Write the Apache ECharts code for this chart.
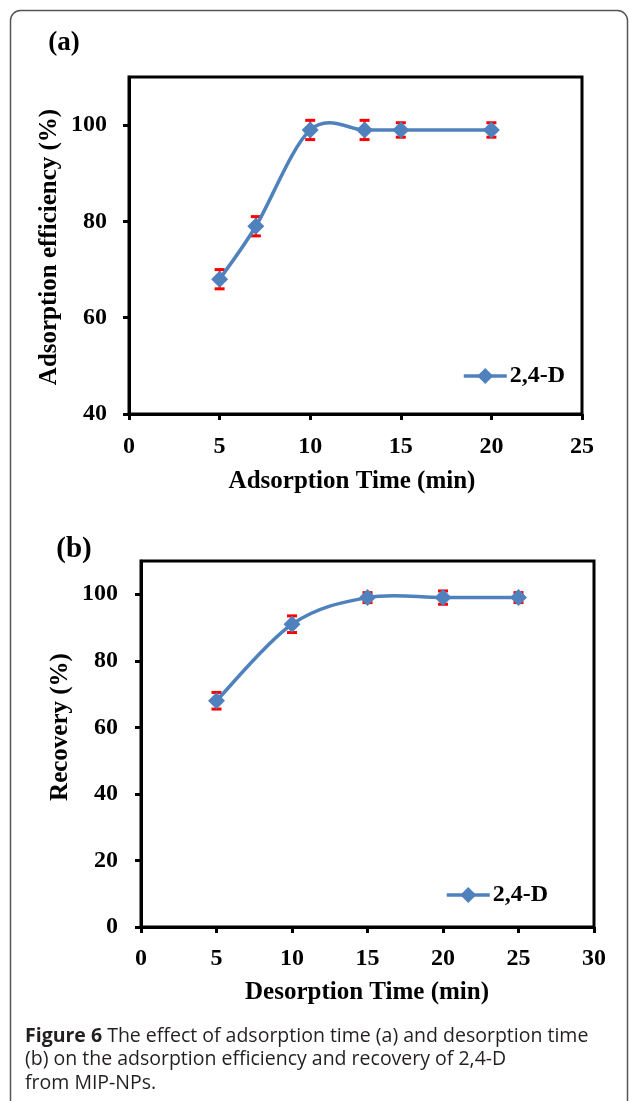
<!DOCTYPE html>
<html>
<head>
<meta charset="utf-8">
<script src="https://cdn.jsdelivr.net/npm/echarts@6/dist/echarts.min.js"></script>
<style>
html,body{margin:0;padding:0;background:#fff;}
#c{width:629px;height:1101px;}
</style>
</head>
<body>
<div id="c"></div>
<script>
// ---- Data ----
var seriesName = '2,4-D';
// Panel (a): adsorption time
var timeA = [5, 7, 10, 13, 15, 20];
var effA  = [68, 79, 99, 99, 99, 99];
var errA  = [2, 2, 2, 2, 1.5, 1.5];
var xTicksA = [0, 5, 10, 15, 20, 25];
var yTicksA = [40, 60, 80, 100];
// Panel (b): desorption time
var timeB = [5, 10, 15, 20, 25];
var recB  = [68, 91, 99, 99, 99];
var errB  = [2.5, 2.5, 1.5, 2, 1.5];
var xTicksB = [0, 5, 10, 15, 20, 25, 30];
var yTicksB = [0, 20, 40, 60, 80, 100];

var captionLines = [
  ['Figure 6', ' The effect of adsorption time (a) and desorption time'],
  ['', '(b) on the adsorption efficiency and recovery of 2,4-D'],
  ['', 'from MIP-NPs.']
];

// ---- Helpers ----
function pairs(xs, ys){ return xs.map(function(x,i){ return [x, ys[i]]; }); }
function errData(xs, ys, es){ return xs.map(function(x,i){ return [x, ys[i]-es[i], ys[i]+es[i]]; }); }

var SERIF = 'Liberation Serif';
var BLUE = '#4f81bd';

function errRender(params, api){
  var x = api.value(0), lo = api.value(1), hi = api.value(2);
  var p1 = api.coord([x, hi]), p2 = api.coord([x, lo]);
  var w = 5;
  var st = {stroke:'#ff0000', lineWidth:3};
  return {type:'group', children:[
    {type:'line', shape:{x1:p1[0], y1:p1[1], x2:p2[0], y2:p2[1]}, style:{stroke:'#ff0000', lineWidth:2}},
    {type:'line', shape:{x1:p1[0]-w, y1:p1[1], x2:p1[0]+w, y2:p1[1]}, style:st},
    {type:'line', shape:{x1:p2[0]-w, y1:p2[1], x2:p2[0]+w, y2:p2[1]}, style:st}
  ]};
}

// Excel-like smoothed curve (cardinal spline as cubic Bezier segments through the data points)
function curveRender(xs, ys){
  return function(params, api){
    var i = params.dataIndex, n = xs.length;
    if (i >= n - 1) return {type:'group', children:[]};
    var P = function(k){ k = Math.max(0, Math.min(n-1, k)); return api.coord([xs[k], ys[k]]); };
    var p0 = P(i-1), p1 = P(i), p2 = P(i+1), p3 = P(i+2);
    var t = 1/6;
    return {type:'bezierCurve', shape:{
      x1:p1[0], y1:p1[1], x2:p2[0], y2:p2[1],
      cpx1:p1[0] + (p2[0]-p0[0])*t, cpy1:p1[1] + (p2[1]-p0[1])*t,
      cpx2:p2[0] - (p3[0]-p1[0])*t, cpy2:p2[1] - (p3[1]-p1[1])*t
    }, style:{stroke:BLUE, lineWidth:3.5, fill:null, lineCap:'round'}};
  };
}

function xAxisCfg(idx, max, margin){
  return {
    type:'value', gridIndex: idx, min:0, max:max, interval:5,
    axisLine:{show:true, onZero:false, lineStyle:{color:'#000', width:3}},
    axisTick:{show:true, inside:false, length:6, lineStyle:{color:'#000', width:3}},
    axisLabel:{margin:margin, color:'#000', fontSize:24, fontWeight:'bold', fontFamily:SERIF},
    splitLine:{show:false}
  };
}
function yAxisCfg(idx, min, ticks, margin){
  return {
    type:'value', gridIndex: idx, min:min, max:110, interval:20,
    axisLine:{show:true, onZero:false, lineStyle:{color:'#000', width:3}},
    axisTick:{show:true, inside:false, length:6, lineStyle:{color:'#000', width:3}, customValues: ticks},
    axisLabel:{margin:margin, color:'#000', fontSize:24, fontWeight:'bold', fontFamily:SERIF, customValues: ticks},
    splitLine:{show:false}
  };
}
function legendCfg(left, top){
  return {
    data:[{name:seriesName, lineStyle:{color:BLUE, width:3.5, opacity:1}}],
    left:left, top:top, padding:0, itemGap:0,
    itemWidth:43, itemHeight:20, selectedMode:false,
    textStyle:{color:'#000', fontSize:24, fontWeight:'bold', fontFamily:SERIF, padding:[0,0,0,-2]}
  };
}
function markerSeries(idx, xs, ys){
  return {
    name: seriesName, type:'line', xAxisIndex:idx, yAxisIndex:idx,
    data: pairs(xs, ys), symbol:'diamond', symbolSize:[17,17],
    lineStyle:{color:BLUE, width:3.5, opacity:0}, itemStyle:{color:BLUE}, z:4
  };
}
function curveSeries(idx, xs, ys){
  return {
    type:'custom', xAxisIndex:idx, yAxisIndex:idx, renderItem: curveRender(xs, ys),
    data: pairs(xs, ys), encode:{x:0, y:1}, z:3, silent:true
  };
}
function errSeries(idx, xs, ys, es){
  return {
    type:'custom', xAxisIndex:idx, yAxisIndex:idx, renderItem: errRender,
    data: errData(xs, ys, es), encode:{x:0, y:[1,2]}, z:2, silent:true
  };
}

var graphics = [
  {type:'rect', shape:{x:10.5, y:10.5, width:617, height:1200, r:10}, style:{fill:'none', stroke:'#555', lineWidth:1.5}, z:-1},
  {type:'text', x:64, y:43, style:{text:'(a)', font:'bold 27px "Liberation Serif"', fill:'#000', align:'center', verticalAlign:'middle'}},
  {type:'text', x:74, y:550, style:{text:'(b)', font:'bold 29px "Liberation Serif"', fill:'#000', align:'center', verticalAlign:'middle'}},
  {type:'text', x:50, y:247, rotation:Math.PI/2, style:{text:'Adsorption efficiency (%)', font:'bold 25px "Liberation Serif"', fill:'#000', align:'center', verticalAlign:'middle'}},
  {type:'text', x:352, y:482, style:{text:'Adsorption Time (min)', font:'bold 25px "Liberation Serif"', fill:'#000', align:'center', verticalAlign:'middle'}},
  {type:'text', x:61, y:727, rotation:Math.PI/2, style:{text:'Recovery (%)', font:'bold 25px "Liberation Serif"', fill:'#000', align:'center', verticalAlign:'middle'}},
  {type:'text', x:367, y:993, style:{text:'Desorption Time (min)', font:'bold 25px "Liberation Serif"', fill:'#000', align:'center', verticalAlign:'middle'}}
];
captionLines.forEach(function(l, i){
  graphics.push({type:'text', x:25, y:1036 + i*23.5, style:{
    text: (l[0] ? '{b|' + l[0] + '}' : '') + '{r|' + l[1] + '}',
    fill:'#231f20', align:'left', verticalAlign:'middle',
    rich:{
      b:{fontFamily:'Open Sans', fontSize:19.5, fontWeight:'bold', fill:'#231f20'},
      r:{fontFamily:'Open Sans', fontSize:19.5, fontWeight:'normal', fill:'#231f20'}
    }
  }});
});

var chart = echarts.init(document.getElementById('c'), null, {renderer:'canvas'});
chart.setOption({
  backgroundColor:'#fff',
  animation:false,
  grid:[
    {left:129, top:77, width:453, height:337, show:true, borderColor:'#000', borderWidth:3, backgroundColor:'transparent'},
    {left:141, top:561, width:453, height:366, show:true, borderColor:'#000', borderWidth:3, backgroundColor:'transparent'}
  ],
  xAxis:[ xAxisCfg(0, 25, 21), xAxisCfg(1, 30, 20) ],
  yAxis:[ yAxisCfg(0, 40, yTicksA, 22), yAxisCfg(1, 0, yTicksB, 23) ],
  legend:[ legendCfg(462, 364), legendCfg(445, 883) ],
  series:[
    errSeries(0, timeA, effA, errA),
    curveSeries(0, timeA, effA),
    markerSeries(0, timeA, effA),
    errSeries(1, timeB, recB, errB),
    curveSeries(1, timeB, recB),
    markerSeries(1, timeB, recB)
  ],
  graphic: graphics
});
</script>
</body>
</html>
